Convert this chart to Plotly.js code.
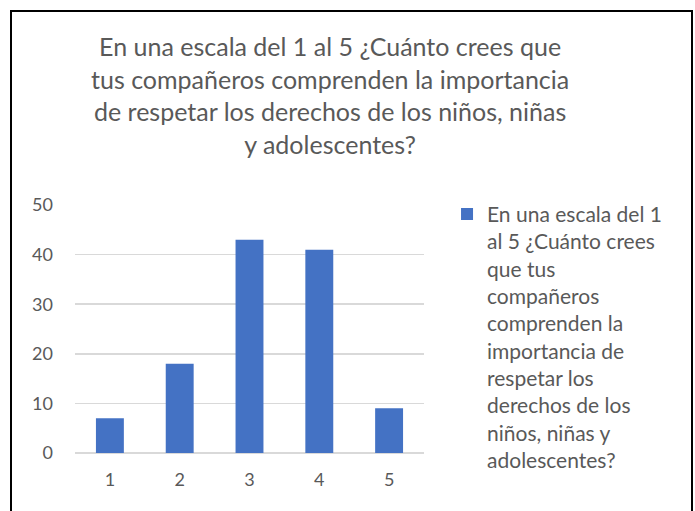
<!DOCTYPE html>
<html>
<head>
<meta charset="utf-8">
<script src="https://cdn.plot.ly/plotly-3.0.1.min.js"></script>
<style>
  body { margin: 0; background: #fff; }
  #frame { position: absolute; left: 10px; top: 10px; width: 679px; height: 520px; border: 2px solid #000; }
  #chart { position: absolute; left: 0; top: 0; width: 695px; height: 511px; }
</style>
</head>
<body>
<div id="frame"></div>
<div id="chart"></div>
<script>
const categories = ['1', '2', '3', '4', '5'];
const values = [7, 18, 43, 41, 9];
const seriesName = 'En una escala del 1<br>al 5 ¿Cuánto crees<br>que tus<br>compañeros<br>comprenden la<br>importancia de<br>respetar los<br>derechos de los<br>niños, niñas y<br>adolescentes?';
const titleText = 'En una escala del 1 al 5 ¿Cuánto crees que<br>tus compañeros comprenden la importancia<br>de respetar los derechos de los niños, niñas<br>y adolescentes?';
const yTicks = [0, 10, 20, 30, 40, 50];

const font = 'Lato, "Open Sans", sans-serif';
const grey = '#595959';

Plotly.newPlot('chart', [{
  type: 'bar',
  x: categories,
  y: values,
  name: seriesName,
  showlegend: true,
  marker: { color: '#4472c4' }
}], {
  width: 695, height: 511,
  paper_bgcolor: 'rgba(0,0,0,0)',
  plot_bgcolor: 'rgba(0,0,0,0)',
  margin: { l: 75, r: 271, t: 205, b: 58 },
  font: { family: font, color: grey, size: 18 },
  title: {
    text: titleText,
    font: { family: font, size: 25, color: grey },
    xref: 'container', x: 0.475, xanchor: 'center',
    yref: 'container', y: 0.89, yanchor: 'top'
  },
  bargap: 0.6,
  xaxis: {
    type: 'category',
    showgrid: false, zeroline: false, showline: false,
    ticks: '', ticklabelstandoff: 14,
    tickfont: { size: 18, color: grey }
  },
  yaxis: {
    range: [0, 50],
    tickvals: yTicks,
    showgrid: true, gridcolor: '#d9d9d9', gridwidth: 1.5,
    zeroline: true, zerolinecolor: '#d9d9d9', zerolinewidth: 1.5,
    showline: false, ticks: '', ticklabelstandoff: 21,
    tickfont: { size: 18, color: grey }
  },
  showlegend: true,
  legend: {
    x: 1.066, xanchor: 'left', y: 1.045, yanchor: 'top',
    valign: 'top', maxheight: 400,
    font: { family: font, size: 21, color: grey },
    bgcolor: 'rgba(0,0,0,0)'
  }
}, { displayModeBar: false, staticPlot: true });
</script>
</body>
</html>
